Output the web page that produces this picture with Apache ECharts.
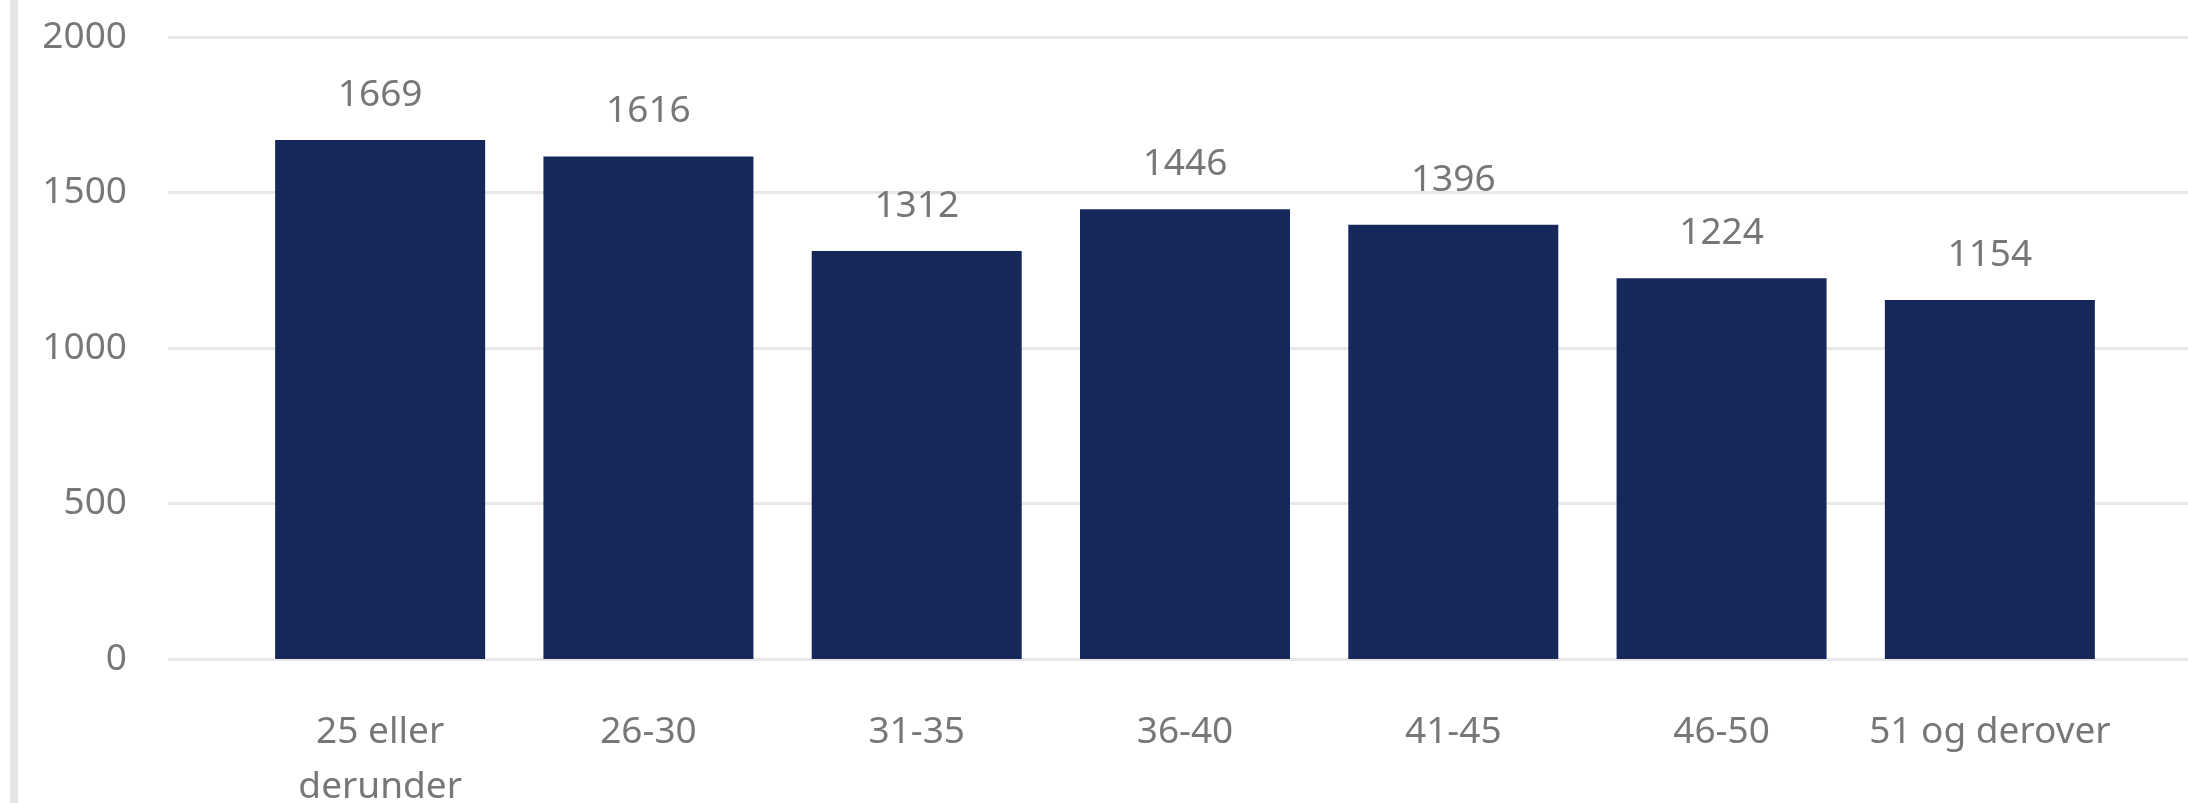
<!DOCTYPE html>
<html>
<head>
<meta charset="utf-8">
<style>
html,body{margin:0;padding:0;background:#fff;}
#chart{width:2188px;height:803px;}
</style>
<script src="https://cdn.jsdelivr.net/npm/echarts@6/dist/echarts.min.js"></script>
</head>
<body>
<div id="chart"></div>
<script>
const categories = ['25 eller\nderunder', '26-30', '31-35', '36-40', '41-45', '46-50', '51 og derover'];
const values = [1669, 1616, 1312, 1446, 1396, 1224, 1154];
const yTicks = [0, 500, 1000, 1500, 2000];

const FONT = 'Noto Sans';
const TXT = '#777777';
const chart = echarts.init(document.getElementById('chart'), null, {renderer: 'canvas'});
chart.setOption({
  animation: false,
  backgroundColor: '#ffffff',
  graphic: [{
    type: 'rect', left: 10, top: 0,
    shape: {width: 8, height: 803},
    style: {fill: '#e6e6e6'}, silent: true
  }],
  grid: [
    {left: 168, right: 0, top: 37, bottom: 144, containLabel: false, outerBoundsMode: 'none'},
    {left: 246, right: 64, top: 37, bottom: 144, containLabel: false, outerBoundsMode: 'none'}
  ],
  xAxis: [
    {gridIndex: 0, type: 'value', show: false, min: 0, max: 1},
    {gridIndex: 1, type: 'category', data: categories,
     axisLine: {show: false}, axisTick: {show: false},
     axisLabel: {color: TXT, fontFamily: FONT, fontSize: 37, margin: 46, lineHeight: 55, interval: 0}}
  ],
  yAxis: [
    {gridIndex: 0, type: 'value', min: yTicks[0], max: yTicks[yTicks.length - 1], interval: 500,
     axisLine: {show: false}, axisTick: {show: false},
     axisLabel: {color: TXT, fontFamily: FONT, fontSize: 37, margin: 41, formatter: v => String(v)},
     splitLine: {lineStyle: {color: '#e8e8e8', width: 3}}},
    {gridIndex: 1, type: 'value', min: yTicks[0], max: yTicks[yTicks.length - 1], interval: 500,
     show: false, splitLine: {show: false}}
  ],
  series: [{
    type: 'bar', xAxisIndex: 1, yAxisIndex: 1,
    data: values, barWidth: 210,
    itemStyle: {color: '#162859'},
    label: {show: true, position: 'top', distance: 26, color: TXT, fontFamily: FONT, fontSize: 37}
  }]
});
</script>
</body>
</html>
